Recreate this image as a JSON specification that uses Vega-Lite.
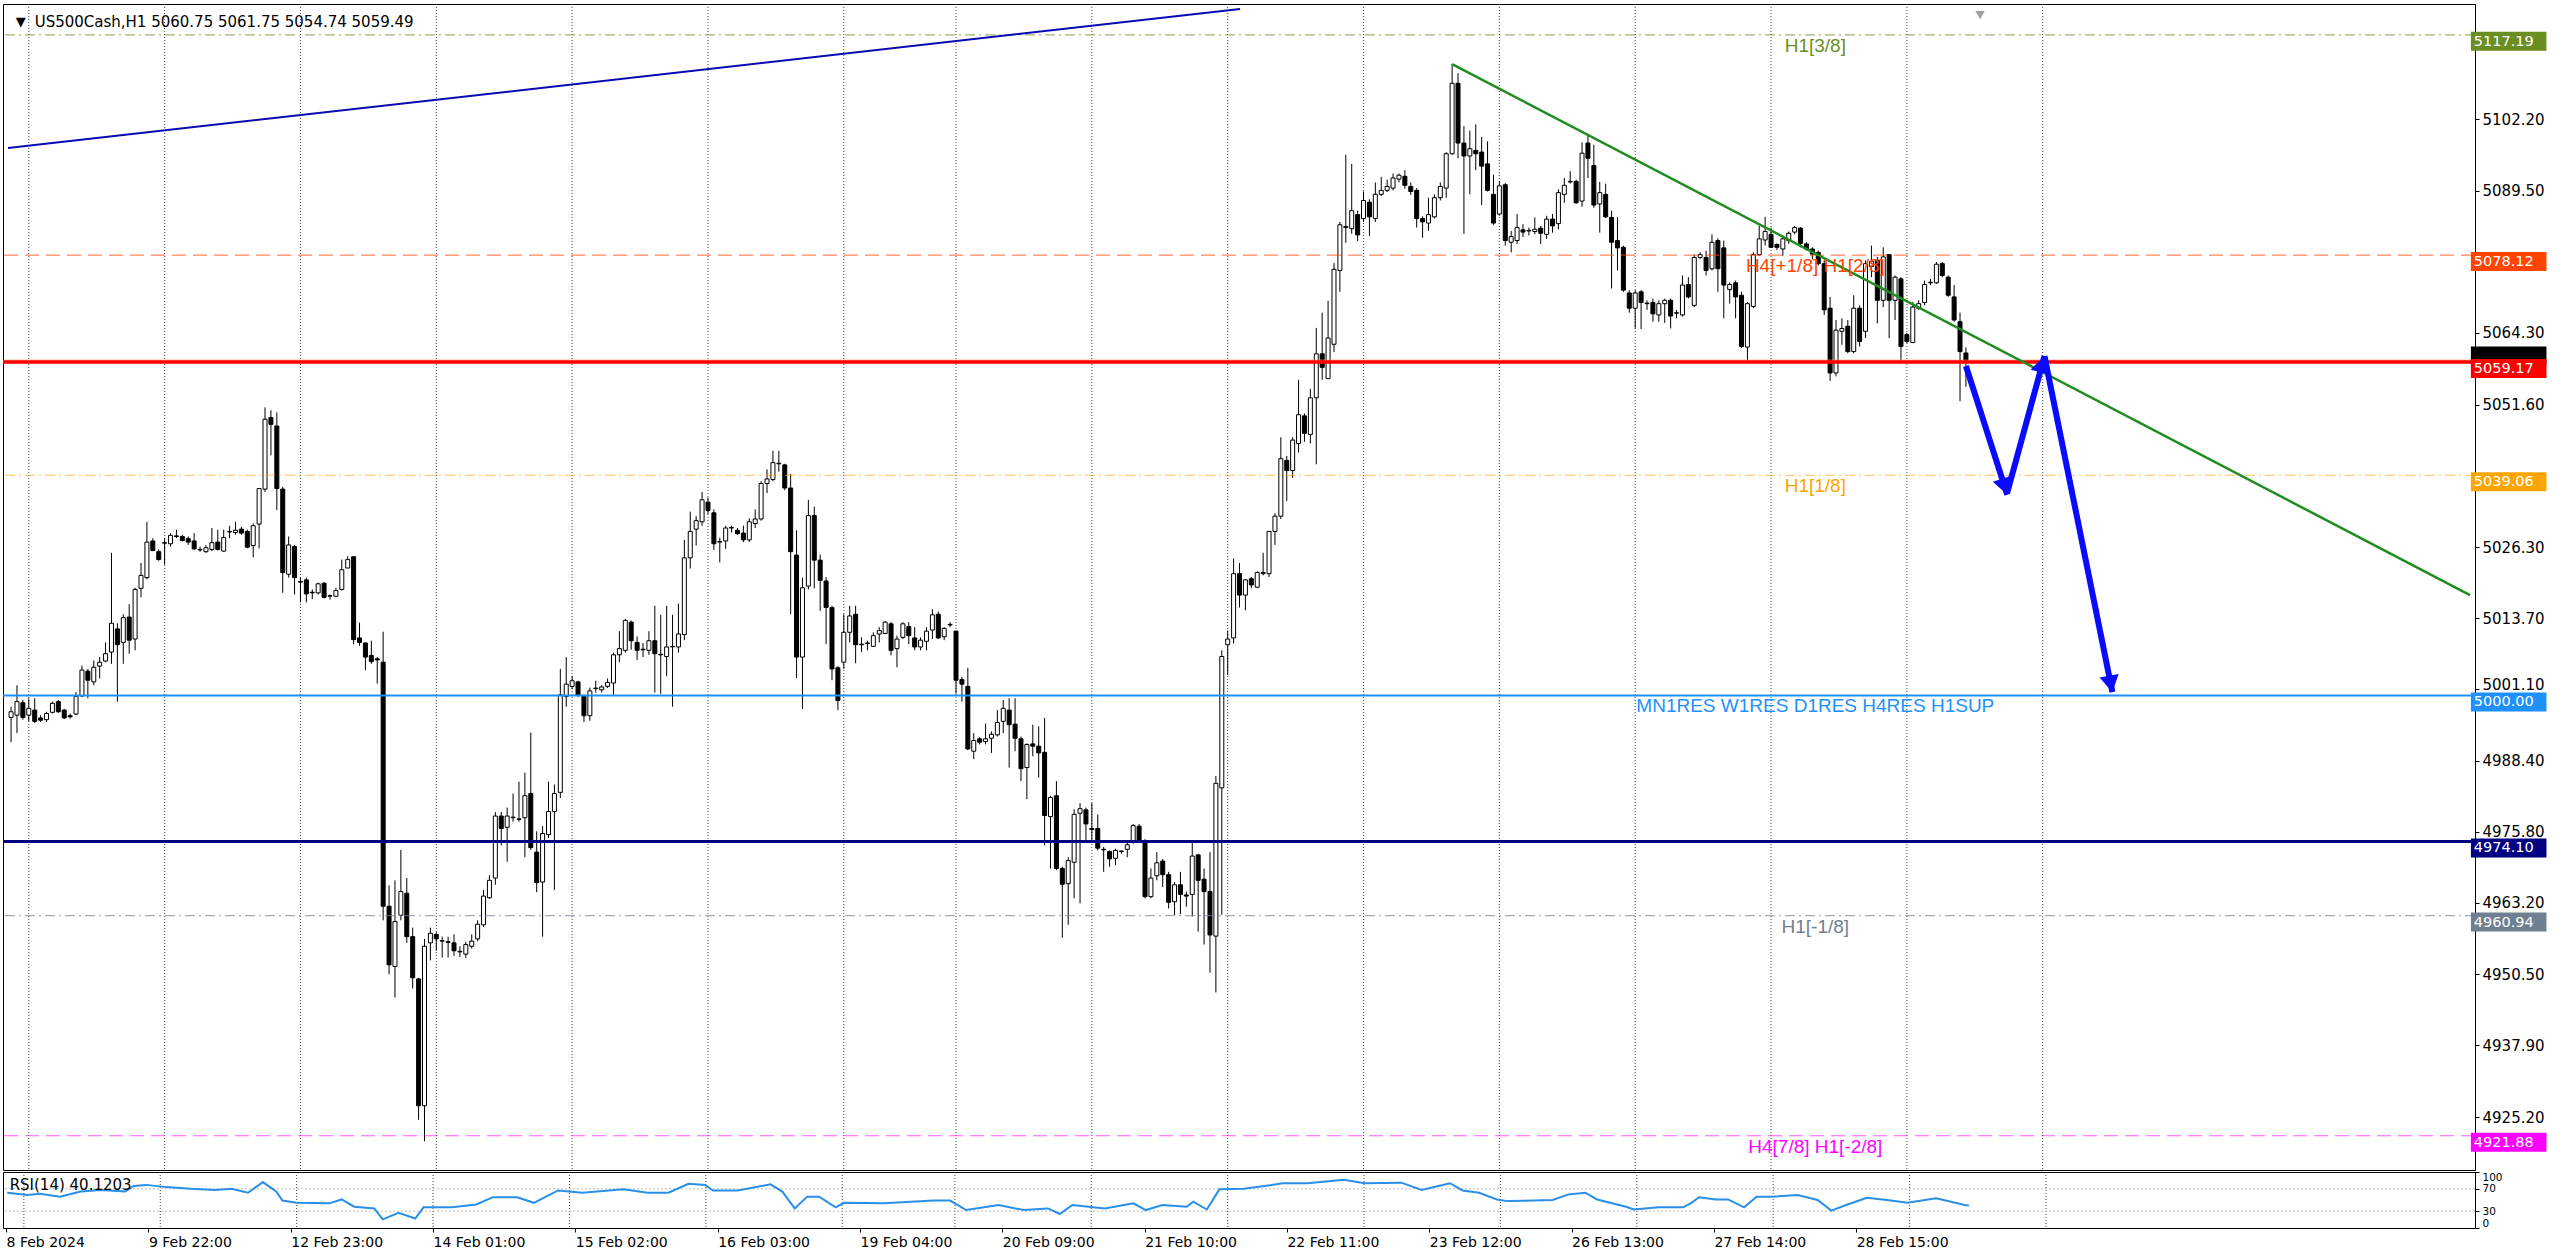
{
"$schema":"https://vega.github.io/schema/vega-lite/v6.json",
"padding":{"left":0,"top":3,"right":0,"bottom":0},
"background":"#ffffff",
"bounds":"flush",
"spacing":2,
"config":{"view":{"stroke":"#000","strokeWidth":1},"font":"DejaVu Sans"},
"datasets":{
"candles":[
{"i":0,"o":4996.1,"h":4998.0,"l":4991.7,"c":4997.1},{"i":1,"o":4996.5,"h":5001.8,"l":4993.3,"c":4998.9},{"i":2,"o":4998.7,"h":4999.2,"l":4995.7,"c":4996.1},{"i":3,"o":4996.5,"h":4999.5,"l":4995.4,"c":4997.7},{"i":4,"o":4997.4,"h":4999.5,"l":4995.1,"c":4995.4},{"i":5,"o":4996.0,"h":4996.5,"l":4995.3,"c":4995.6},{"i":6,"o":4995.7,"h":4997.1,"l":4995.3,"c":4996.8},{"i":7,"o":4997.0,"h":4998.9,"l":4996.8,"c":4998.6},{"i":8,"o":4998.9,"h":4999.2,"l":4996.9,"c":4997.1},{"i":9,"o":4997.4,"h":4997.6,"l":4995.8,"c":4996.0},
{"i":10,"o":4996.4,"h":4996.8,"l":4995.9,"c":4996.2},{"i":11,"o":4996.7,"h":5000.6,"l":4996.5,"c":4999.8},{"i":12,"o":4999.9,"h":5005.3,"l":4999.7,"c":5004.5},{"i":13,"o":5004.3,"h":5004.7,"l":4999.5,"c":5002.7},{"i":14,"o":5002.4,"h":5006.2,"l":5001.8,"c":5005.0},{"i":15,"o":5005.2,"h":5006.8,"l":5003.0,"c":5005.9},{"i":16,"o":5006.1,"h":5009.4,"l":5005.9,"c":5007.4},{"i":17,"o":5007.7,"h":5025.3,"l":5005.6,"c":5012.8},{"i":18,"o":5011.8,"h":5012.8,"l":4998.9,"c":5009.0},{"i":19,"o":5009.4,"h":5014.4,"l":5005.6,"c":5013.8},
{"i":20,"o":5013.9,"h":5016.2,"l":5007.4,"c":5009.8},{"i":21,"o":5010.0,"h":5019.1,"l":5008.0,"c":5018.8},{"i":22,"o":5019.0,"h":5023.5,"l":5017.4,"c":5021.3},{"i":23,"o":5020.9,"h":5030.8,"l":5020.6,"c":5027.2},{"i":24,"o":5027.4,"h":5027.9,"l":5025.6,"c":5025.7},{"i":25,"o":5025.5,"h":5025.9,"l":5023.9,"c":5024.1},{"i":26,"o":5027.0,"h":5027.9,"l":5023.2,"c":5027.1},{"i":27,"o":5026.9,"h":5028.8,"l":5026.4,"c":5028.4},{"i":28,"o":5028.3,"h":5029.4,"l":5027.9,"c":5028.2},{"i":29,"o":5028.2,"h":5028.5,"l":5027.3,"c":5027.5},
{"i":30,"o":5027.8,"h":5028.2,"l":5026.7,"c":5027.2},{"i":31,"o":5027.4,"h":5028.8,"l":5025.8,"c":5026.0},{"i":32,"o":5025.9,"h":5026.4,"l":5025.5,"c":5025.8},{"i":33,"o":5025.5,"h":5026.7,"l":5025.3,"c":5026.2},{"i":34,"o":5025.9,"h":5029.7,"l":5025.6,"c":5027.1},{"i":35,"o":5027.2,"h":5029.4,"l":5025.7,"c":5025.9},{"i":36,"o":5025.6,"h":5029.4,"l":5025.5,"c":5028.0},{"i":37,"o":5029.0,"h":5030.1,"l":5027.9,"c":5029.1},{"i":38,"o":5028.9,"h":5030.8,"l":5028.5,"c":5029.3},{"i":39,"o":5029.5,"h":5029.9,"l":5028.5,"c":5028.8},
{"i":40,"o":5029.1,"h":5029.4,"l":5026.1,"c":5026.3},{"i":41,"o":5026.6,"h":5030.5,"l":5024.5,"c":5030.1},{"i":42,"o":5030.4,"h":5036.8,"l":5026.1,"c":5036.7},{"i":43,"o":5036.6,"h":5051.1,"l":5036.1,"c":5049.0},{"i":44,"o":5049.3,"h":5050.6,"l":5042.6,"c":5048.1},{"i":45,"o":5047.8,"h":5050.2,"l":5032.9,"c":5036.7},{"i":46,"o":5036.6,"h":5037.0,"l":5018.2,"c":5021.8},{"i":47,"o":5021.5,"h":5028.2,"l":5020.9,"c":5026.7},{"i":48,"o":5026.4,"h":5026.7,"l":5017.9,"c":5020.9},{"i":49,"o":5020.2,"h":5020.9,"l":5016.5,"c":5020.1},
{"i":50,"o":5020.5,"h":5020.9,"l":5016.5,"c":5018.0},{"i":51,"o":5018.3,"h":5018.8,"l":5017.1,"c":5018.2},{"i":52,"o":5018.2,"h":5020.0,"l":5017.9,"c":5019.8},{"i":53,"o":5019.9,"h":5020.1,"l":5017.2,"c":5017.4},{"i":54,"o":5017.6,"h":5017.9,"l":5017.0,"c":5017.7},{"i":55,"o":5017.6,"h":5019.1,"l":5017.5,"c":5018.6},{"i":56,"o":5018.8,"h":5024.1,"l":5018.6,"c":5022.3},{"i":57,"o":5022.6,"h":5024.7,"l":5022.6,"c":5024.1},{"i":58,"o":5024.6,"h":5024.7,"l":5009.1,"c":5009.9},{"i":59,"o":5010.2,"h":5012.9,"l":5008.8,"c":5009.4},
{"i":60,"o":5009.3,"h":5009.4,"l":5004.5,"c":5006.8},{"i":61,"o":5007.1,"h":5009.7,"l":5005.6,"c":5006.0},{"i":62,"o":5006.5,"h":5006.8,"l":5002.1,"c":5006.3},{"i":63,"o":5005.9,"h":5011.3,"l":4960.1,"c":4962.6},{"i":64,"o":4962.6,"h":4966.3,"l":4950.5,"c":4952.2},{"i":65,"o":4951.9,"h":4967.2,"l":4946.4,"c":4959.9},{"i":66,"o":4961.0,"h":4972.6,"l":4960.1,"c":4965.2},{"i":67,"o":4964.9,"h":4967.6,"l":4956.1,"c":4957.2},{"i":68,"o":4957.2,"h":4958.8,"l":4948.0,"c":4949.9},{"i":69,"o":4949.7,"h":4949.9,"l":4924.7,"c":4927.2},
{"i":70,"o":4927.2,"h":4956.8,"l":4920.9,"c":4955.5},{"i":71,"o":4956.1,"h":4958.8,"l":4953.0,"c":4957.8},{"i":72,"o":4957.6,"h":4958.0,"l":4954.7,"c":4956.8},{"i":73,"o":4956.4,"h":4957.2,"l":4953.5,"c":4956.5},{"i":74,"o":4956.3,"h":4957.2,"l":4953.5,"c":4956.2},{"i":75,"o":4956.1,"h":4957.6,"l":4953.8,"c":4954.7},{"i":76,"o":4954.5,"h":4955.5,"l":4953.6,"c":4954.6},{"i":77,"o":4954.1,"h":4956.3,"l":4953.4,"c":4955.8},{"i":78,"o":4955.5,"h":4957.6,"l":4955.1,"c":4956.4},{"i":79,"o":4956.8,"h":4960.1,"l":4956.4,"c":4959.4},
{"i":80,"o":4959.3,"h":4965.5,"l":4958.9,"c":4964.4},{"i":81,"o":4964.1,"h":4968.1,"l":4963.9,"c":4967.2},{"i":82,"o":4967.6,"h":4979.3,"l":4966.4,"c":4978.6},{"i":83,"o":4978.6,"h":4979.3,"l":4973.4,"c":4976.4},{"i":84,"o":4976.6,"h":4980.1,"l":4970.5,"c":4978.6},{"i":85,"o":4978.3,"h":4982.6,"l":4977.6,"c":4978.4},{"i":86,"o":4978.0,"h":4984.7,"l":4977.6,"c":4978.1},{"i":87,"o":4978.3,"h":4986.3,"l":4971.3,"c":4982.2},{"i":88,"o":4982.6,"h":4993.4,"l":4972.6,"c":4973.0},{"i":89,"o":4972.2,"h":4975.9,"l":4965.1,"c":4966.8},
{"i":90,"o":4966.9,"h":4976.8,"l":4957.2,"c":4975.5},{"i":91,"o":4975.3,"h":4984.7,"l":4974.7,"c":4979.4},{"i":92,"o":4979.4,"h":4984.2,"l":4965.5,"c":4982.6},{"i":93,"o":4982.8,"h":5004.7,"l":4981.8,"c":5000.1},{"i":94,"o":4999.8,"h":5006.8,"l":4998.0,"c":5002.0},{"i":95,"o":5001.6,"h":5003.4,"l":5001.1,"c":5002.6},{"i":96,"o":5002.4,"h":5002.6,"l":4999.7,"c":5000.0},{"i":97,"o":5000.0,"h":5000.1,"l":4995.3,"c":4996.4},{"i":98,"o":4996.4,"h":5001.4,"l":4995.5,"c":5000.8},{"i":99,"o":5001.2,"h":5002.6,"l":5000.5,"c":5001.3},
{"i":100,"o":5001.0,"h":5001.8,"l":5000.5,"c":5001.5},{"i":101,"o":5001.6,"h":5003.0,"l":5001.3,"c":5002.3},{"i":102,"o":5002.2,"h":5007.6,"l":5000.1,"c":5007.2},{"i":103,"o":5007.2,"h":5011.4,"l":5005.9,"c":5008.3},{"i":104,"o":5008.0,"h":5013.6,"l":5007.6,"c":5013.3},{"i":105,"o":5013.0,"h":5013.3,"l":5008.1,"c":5009.7},{"i":106,"o":5009.4,"h":5010.5,"l":5006.3,"c":5008.0},{"i":107,"o":5008.2,"h":5009.3,"l":5006.8,"c":5008.1},{"i":108,"o":5008.0,"h":5011.4,"l":5007.2,"c":5009.7},{"i":109,"o":5009.7,"h":5015.9,"l":5000.5,"c":5007.4},
{"i":110,"o":5007.3,"h":5014.3,"l":5000.3,"c":5007.2},{"i":111,"o":5006.9,"h":5015.9,"l":5003.4,"c":5008.6},{"i":112,"o":5008.6,"h":5014.3,"l":4998.0,"c":5008.7},{"i":113,"o":5008.6,"h":5016.3,"l":5007.6,"c":5010.9},{"i":114,"o":5010.8,"h":5027.6,"l":5009.8,"c":5024.4},{"i":115,"o":5024.4,"h":5032.6,"l":5022.5,"c":5029.1},{"i":116,"o":5029.5,"h":5031.8,"l":5026.6,"c":5031.0},{"i":117,"o":5030.8,"h":5036.1,"l":5030.1,"c":5034.7},{"i":118,"o":5034.3,"h":5035.1,"l":5032.2,"c":5032.8},{"i":119,"o":5032.4,"h":5033.0,"l":5025.8,"c":5026.9},
{"i":120,"o":5027.2,"h":5028.0,"l":5023.6,"c":5027.3},{"i":121,"o":5027.4,"h":5030.1,"l":5026.0,"c":5029.7},{"i":122,"o":5029.7,"h":5030.1,"l":5028.9,"c":5029.8},{"i":123,"o":5029.3,"h":5029.7,"l":5028.5,"c":5028.7},{"i":124,"o":5028.8,"h":5030.1,"l":5027.2,"c":5027.6},{"i":125,"o":5027.6,"h":5031.4,"l":5027.2,"c":5030.8},{"i":126,"o":5030.5,"h":5033.0,"l":5029.7,"c":5031.3},{"i":127,"o":5031.3,"h":5038.0,"l":5031.0,"c":5037.6},{"i":128,"o":5037.6,"h":5040.1,"l":5035.9,"c":5038.4},{"i":129,"o":5038.3,"h":5043.4,"l":5038.0,"c":5041.3},
{"i":130,"o":5041.1,"h":5043.4,"l":5039.7,"c":5041.2},{"i":131,"o":5040.9,"h":5041.1,"l":5036.4,"c":5036.8},{"i":132,"o":5036.8,"h":5039.3,"l":5014.4,"c":5025.5},{"i":133,"o":5024.9,"h":5029.3,"l":5003.1,"c":5006.8},{"i":134,"o":5006.8,"h":5020.9,"l":4997.6,"c":5019.1},{"i":135,"o":5019.4,"h":5034.7,"l":5018.8,"c":5031.9},{"i":136,"o":5031.9,"h":5033.5,"l":5019.0,"c":5024.0},{"i":137,"o":5024.0,"h":5025.0,"l":5015.0,"c":5020.4},{"i":138,"o":5020.3,"h":5021.0,"l":5009.1,"c":5015.6},{"i":139,"o":5015.6,"h":5015.9,"l":5002.7,"c":5004.7},
{"i":140,"o":5004.9,"h":5005.2,"l":4997.4,"c":4999.1},{"i":141,"o":5005.9,"h":5014.4,"l":5004.7,"c":5011.2},{"i":142,"o":5011.2,"h":5015.9,"l":5009.4,"c":5014.1},{"i":143,"o":5014.4,"h":5015.9,"l":5005.7,"c":5009.0},{"i":144,"o":5009.1,"h":5010.3,"l":5007.7,"c":5009.0},{"i":145,"o":5009.3,"h":5009.7,"l":5008.0,"c":5009.2},{"i":146,"o":5008.7,"h":5011.2,"l":5008.6,"c":5010.6},{"i":147,"o":5010.9,"h":5012.1,"l":5009.4,"c":5011.5},{"i":148,"o":5011.0,"h":5013.2,"l":5010.9,"c":5013.0},{"i":149,"o":5012.7,"h":5013.0,"l":5007.1,"c":5008.0},
{"i":150,"o":5008.3,"h":5010.6,"l":5005.0,"c":5010.0},{"i":151,"o":5010.3,"h":5013.0,"l":5010.0,"c":5012.7},{"i":152,"o":5012.2,"h":5013.0,"l":5009.1,"c":5010.6},{"i":153,"o":5010.2,"h":5012.1,"l":5008.0,"c":5008.6},{"i":154,"o":5008.6,"h":5010.3,"l":5008.0,"c":5009.8},{"i":155,"o":5009.6,"h":5012.1,"l":5008.0,"c":5011.4},{"i":156,"o":5011.6,"h":5015.3,"l":5010.0,"c":5014.3},{"i":157,"o":5014.4,"h":5014.9,"l":5010.0,"c":5010.2},{"i":158,"o":5010.4,"h":5012.1,"l":5009.8,"c":5011.9},{"i":159,"o":5012.5,"h":5013.0,"l":5012.1,"c":5012.6},
{"i":160,"o":5011.4,"h":5011.5,"l":5000.3,"c":5002.7},{"i":161,"o":5002.8,"h":5003.3,"l":4998.9,"c":5002.0},{"i":162,"o":5001.6,"h":5004.9,"l":4990.3,"c":4990.5},{"i":163,"o":4990.1,"h":4993.3,"l":4988.7,"c":4992.0},{"i":164,"o":4992.3,"h":4992.6,"l":4991.3,"c":4991.7},{"i":165,"o":4991.8,"h":4995.0,"l":4991.3,"c":4992.3},{"i":166,"o":4992.4,"h":4993.6,"l":4989.8,"c":4993.1},{"i":167,"o":4993.0,"h":4997.4,"l":4992.7,"c":4995.2},{"i":168,"o":4995.4,"h":4999.2,"l":4993.3,"c":4997.7},{"i":169,"o":4997.4,"h":4999.5,"l":4987.2,"c":4994.8},
{"i":170,"o":4994.9,"h":4999.5,"l":4990.1,"c":4992.4},{"i":171,"o":4992.3,"h":4992.7,"l":4984.8,"c":4987.0},{"i":172,"o":4987.2,"h":4991.5,"l":4981.6,"c":4991.3},{"i":173,"o":4991.4,"h":4994.8,"l":4989.2,"c":4991.0},{"i":174,"o":4991.0,"h":4994.5,"l":4985.4,"c":4989.8},{"i":175,"o":4989.9,"h":4996.0,"l":4973.4,"c":4978.7},{"i":176,"o":4978.5,"h":4982.2,"l":4969.3,"c":4981.9},{"i":177,"o":4982.2,"h":4984.8,"l":4969.0,"c":4969.3},{"i":178,"o":4969.3,"h":4969.6,"l":4957.0,"c":4966.5},{"i":179,"o":4966.6,"h":4971.3,"l":4959.3,"c":4970.7},
{"i":180,"o":4970.4,"h":4979.8,"l":4964.0,"c":4978.9},{"i":181,"o":4979.1,"h":4980.9,"l":4963.1,"c":4979.9},{"i":182,"o":4979.7,"h":4980.1,"l":4974.3,"c":4977.2},{"i":183,"o":4976.4,"h":4980.9,"l":4974.0,"c":4976.2},{"i":184,"o":4976.4,"h":4978.9,"l":4972.5,"c":4972.9},{"i":185,"o":4972.7,"h":4973.1,"l":4968.7,"c":4972.6},{"i":186,"o":4972.3,"h":4972.5,"l":4969.6,"c":4971.0},{"i":187,"o":4971.1,"h":4972.8,"l":4969.9,"c":4972.5},{"i":188,"o":4972.3,"h":4972.5,"l":4971.9,"c":4972.4},{"i":189,"o":4972.7,"h":4973.9,"l":4971.3,"c":4973.5},
{"i":190,"o":4974.0,"h":4977.2,"l":4973.7,"c":4976.9},{"i":191,"o":4976.8,"h":4977.2,"l":4973.9,"c":4974.2},{"i":192,"o":4974.2,"h":4974.5,"l":4964.0,"c":4964.3},{"i":193,"o":4964.3,"h":4969.3,"l":4964.0,"c":4967.6},{"i":194,"o":4968.0,"h":4972.2,"l":4967.2,"c":4970.3},{"i":195,"o":4970.6,"h":4971.0,"l":4966.0,"c":4968.2},{"i":196,"o":4968.2,"h":4968.7,"l":4962.2,"c":4963.3},{"i":197,"o":4963.4,"h":4966.9,"l":4961.0,"c":4966.4},{"i":198,"o":4966.4,"h":4968.7,"l":4961.2,"c":4964.7},{"i":199,"o":4964.6,"h":4965.2,"l":4962.5,"c":4964.4},
{"i":200,"o":4964.7,"h":4974.0,"l":4960.8,"c":4971.5},{"i":201,"o":4971.7,"h":4971.9,"l":4958.1,"c":4967.2},{"i":202,"o":4967.4,"h":4969.3,"l":4955.8,"c":4965.2},{"i":203,"o":4965.2,"h":4972.2,"l":4950.8,"c":4957.5},{"i":204,"o":4957.3,"h":4985.7,"l":4947.3,"c":4984.4},{"i":205,"o":4983.6,"h":5008.0,"l":4961.1,"c":5006.9},{"i":206,"o":5009.0,"h":5011.5,"l":5003.6,"c":5010.0},{"i":207,"o":5010.2,"h":5024.3,"l":5009.2,"c":5021.6},{"i":208,"o":5021.6,"h":5023.5,"l":5015.6,"c":5017.8},{"i":209,"o":5017.8,"h":5020.6,"l":5015.1,"c":5020.5},
{"i":210,"o":5020.7,"h":5021.0,"l":5019.0,"c":5019.6},{"i":211,"o":5019.2,"h":5022.0,"l":5019.0,"c":5021.8},{"i":212,"o":5021.6,"h":5025.3,"l":5021.3,"c":5021.8},{"i":213,"o":5021.6,"h":5029.1,"l":5021.0,"c":5029.1},{"i":214,"o":5029.1,"h":5032.3,"l":5026.7,"c":5031.8},{"i":215,"o":5031.8,"h":5045.8,"l":5031.3,"c":5042.0},{"i":216,"o":5041.7,"h":5042.5,"l":5034.5,"c":5039.9},{"i":217,"o":5039.9,"h":5045.8,"l":5038.6,"c":5045.3},{"i":218,"o":5044.7,"h":5056.0,"l":5043.1,"c":5049.8},{"i":219,"o":5049.6,"h":5050.0,"l":5045.0,"c":5046.5},
{"i":220,"o":5046.3,"h":5054.4,"l":5044.7,"c":5052.8},{"i":221,"o":5052.8,"h":5065.2,"l":5041.0,"c":5060.6},{"i":222,"o":5060.6,"h":5067.9,"l":5056.0,"c":5058.2},{"i":223,"o":5056.2,"h":5070.0,"l":5056.2,"c":5063.4},{"i":224,"o":5062.3,"h":5076.7,"l":5060.9,"c":5075.6},{"i":225,"o":5075.4,"h":5084.0,"l":5071.6,"c":5083.5},{"i":226,"o":5083.0,"h":5095.9,"l":5080.3,"c":5083.2},{"i":227,"o":5082.8,"h":5094.3,"l":5081.9,"c":5086.0},{"i":228,"o":5085.3,"h":5086.0,"l":5080.6,"c":5081.7},{"i":229,"o":5084.6,"h":5089.4,"l":5084.0,"c":5087.8},
{"i":230,"o":5087.5,"h":5088.0,"l":5081.5,"c":5084.9},{"i":231,"o":5084.6,"h":5091.0,"l":5084.0,"c":5088.9},{"i":232,"o":5088.9,"h":5092.0,"l":5088.6,"c":5089.6},{"i":233,"o":5089.6,"h":5091.5,"l":5089.3,"c":5090.3},{"i":234,"o":5090.0,"h":5092.6,"l":5089.6,"c":5091.8},{"i":235,"o":5091.6,"h":5092.6,"l":5091.0,"c":5092.3},{"i":236,"o":5092.1,"h":5093.2,"l":5089.9,"c":5090.5},{"i":237,"o":5090.3,"h":5091.0,"l":5088.8,"c":5089.4},{"i":238,"o":5089.6,"h":5090.0,"l":5083.0,"c":5084.6},{"i":239,"o":5084.6,"h":5085.0,"l":5081.2,"c":5084.0},
{"i":240,"o":5083.8,"h":5088.3,"l":5082.4,"c":5085.3},{"i":241,"o":5084.9,"h":5088.9,"l":5084.6,"c":5088.3},{"i":242,"o":5088.3,"h":5091.0,"l":5087.8,"c":5090.3},{"i":243,"o":5090.0,"h":5096.4,"l":5088.3,"c":5096.1},{"i":244,"o":5096.1,"h":5112.0,"l":5095.9,"c":5108.6},{"i":245,"o":5108.6,"h":5110.4,"l":5095.3,"c":5098.0},{"i":246,"o":5098.0,"h":5101.0,"l":5081.9,"c":5095.7},{"i":247,"o":5095.7,"h":5100.2,"l":5088.9,"c":5097.0},{"i":248,"o":5096.7,"h":5101.3,"l":5093.2,"c":5096.1},{"i":249,"o":5096.4,"h":5099.1,"l":5087.0,"c":5093.9},
{"i":250,"o":5094.3,"h":5098.3,"l":5089.4,"c":5089.6},{"i":251,"o":5088.9,"h":5092.4,"l":5083.5,"c":5083.8},{"i":252,"o":5085.4,"h":5091.2,"l":5085.1,"c":5090.4},{"i":253,"o":5090.6,"h":5090.9,"l":5079.8,"c":5080.7},{"i":254,"o":5080.4,"h":5082.4,"l":5078.6,"c":5081.4},{"i":255,"o":5080.7,"h":5085.4,"l":5080.1,"c":5083.0},{"i":256,"o":5082.6,"h":5083.6,"l":5081.3,"c":5082.2},{"i":257,"o":5082.4,"h":5083.0,"l":5081.6,"c":5082.5},{"i":258,"o":5082.3,"h":5084.8,"l":5081.8,"c":5082.7},{"i":259,"o":5082.9,"h":5083.3,"l":5080.1,"c":5082.0},
{"i":260,"o":5081.8,"h":5085.1,"l":5081.0,"c":5084.5},{"i":261,"o":5084.5,"h":5085.4,"l":5082.1,"c":5083.3},{"i":262,"o":5083.7,"h":5089.8,"l":5082.7,"c":5089.2},{"i":263,"o":5088.9,"h":5091.8,"l":5087.4,"c":5090.5},{"i":264,"o":5091.1,"h":5093.0,"l":5090.8,"c":5091.2},{"i":265,"o":5091.2,"h":5091.5,"l":5087.2,"c":5087.4},{"i":266,"o":5087.7,"h":5098.1,"l":5086.7,"c":5096.2},{"i":267,"o":5098.0,"h":5099.6,"l":5091.8,"c":5095.3},{"i":268,"o":5094.0,"h":5097.7,"l":5086.5,"c":5087.0},{"i":269,"o":5087.2,"h":5091.1,"l":5082.1,"c":5089.2},
{"i":270,"o":5088.9,"h":5090.8,"l":5084.7,"c":5084.9},{"i":271,"o":5084.8,"h":5086.0,"l":5072.2,"c":5080.4},{"i":272,"o":5080.7,"h":5084.9,"l":5075.4,"c":5079.4},{"i":273,"o":5079.5,"h":5079.8,"l":5071.6,"c":5071.9},{"i":274,"o":5071.4,"h":5071.9,"l":5067.9,"c":5068.7},{"i":275,"o":5068.7,"h":5071.9,"l":5065.1,"c":5071.4},{"i":276,"o":5071.6,"h":5071.9,"l":5065.0,"c":5069.7},{"i":277,"o":5069.5,"h":5070.1,"l":5068.4,"c":5069.6},{"i":278,"o":5069.7,"h":5070.4,"l":5066.3,"c":5067.7},{"i":279,"o":5067.5,"h":5070.1,"l":5066.3,"c":5069.5},
{"i":280,"o":5069.5,"h":5070.4,"l":5066.1,"c":5070.1},{"i":281,"o":5070.1,"h":5070.4,"l":5065.1,"c":5067.3},{"i":282,"o":5067.8,"h":5068.4,"l":5066.9,"c":5067.9},{"i":283,"o":5067.5,"h":5074.5,"l":5067.2,"c":5072.8},{"i":284,"o":5072.9,"h":5074.2,"l":5070.4,"c":5070.7},{"i":285,"o":5069.2,"h":5078.2,"l":5068.9,"c":5077.7},{"i":286,"o":5077.7,"h":5078.6,"l":5077.4,"c":5078.2},{"i":287,"o":5077.7,"h":5078.9,"l":5074.5,"c":5075.4},{"i":288,"o":5075.7,"h":5081.8,"l":5075.4,"c":5080.4},{"i":289,"o":5080.7,"h":5081.1,"l":5071.6,"c":5075.7},
{"i":290,"o":5079.4,"h":5080.7,"l":5066.9,"c":5072.8},{"i":291,"o":5072.0,"h":5073.3,"l":5069.5,"c":5072.9},{"i":292,"o":5073.2,"h":5073.6,"l":5066.9,"c":5070.7},{"i":293,"o":5071.0,"h":5071.6,"l":5061.6,"c":5061.9},{"i":294,"o":5061.8,"h":5069.8,"l":5059.3,"c":5069.5},{"i":295,"o":5069.0,"h":5078.6,"l":5068.7,"c":5078.2},{"i":296,"o":5078.2,"h":5083.3,"l":5078.0,"c":5081.0},{"i":297,"o":5080.8,"h":5084.9,"l":5079.8,"c":5082.3},{"i":298,"o":5081.8,"h":5083.0,"l":5079.4,"c":5079.5},{"i":299,"o":5080.0,"h":5080.2,"l":5079.0,"c":5079.5},
{"i":300,"o":5079.2,"h":5081.6,"l":5078.0,"c":5081.0},{"i":301,"o":5080.7,"h":5082.3,"l":5080.1,"c":5082.0},{"i":302,"o":5082.2,"h":5083.3,"l":5081.8,"c":5083.0},{"i":303,"o":5082.9,"h":5083.1,"l":5079.5,"c":5080.2},{"i":304,"o":5080.1,"h":5080.4,"l":5078.9,"c":5079.2},{"i":305,"o":5079.2,"h":5079.5,"l":5077.4,"c":5078.3},{"i":306,"o":5078.6,"h":5078.9,"l":5076.3,"c":5076.6},{"i":307,"o":5076.6,"h":5077.2,"l":5067.5,"c":5068.4},{"i":308,"o":5068.7,"h":5070.7,"l":5055.8,"c":5057.2},{"i":309,"o":5057.2,"h":5066.6,"l":5056.6,"c":5064.8},
{"i":310,"o":5064.6,"h":5066.9,"l":5062.2,"c":5065.1},{"i":311,"o":5065.5,"h":5066.6,"l":5060.7,"c":5061.0},{"i":312,"o":5061.0,"h":5071.0,"l":5060.7,"c":5068.7},{"i":313,"o":5068.7,"h":5069.2,"l":5061.9,"c":5062.8},{"i":314,"o":5064.6,"h":5077.2,"l":5063.4,"c":5076.6},{"i":315,"o":5076.1,"h":5079.8,"l":5074.2,"c":5077.0},{"i":316,"o":5077.2,"h":5077.8,"l":5066.0,"c":5070.1},{"i":317,"o":5070.1,"h":5079.5,"l":5068.9,"c":5077.8},{"i":318,"o":5078.2,"h":5078.3,"l":5063.4,"c":5070.1},{"i":319,"o":5070.1,"h":5074.5,"l":5066.6,"c":5074.2},
{"i":320,"o":5073.9,"h":5074.2,"l":5059.3,"c":5061.9},{"i":321,"o":5064.0,"h":5064.3,"l":5062.5,"c":5062.8},{"i":322,"o":5062.6,"h":5069.8,"l":5062.5,"c":5068.9},{"i":323,"o":5068.7,"h":5070.1,"l":5068.4,"c":5069.5},{"i":324,"o":5069.7,"h":5073.6,"l":5069.2,"c":5072.9},{"i":325,"o":5073.2,"h":5073.9,"l":5072.8,"c":5073.3},{"i":326,"o":5073.2,"h":5076.9,"l":5073.0,"c":5076.5},{"i":327,"o":5076.6,"h":5076.9,"l":5074.2,"c":5074.5},{"i":328,"o":5074.2,"h":5074.5,"l":5070.7,"c":5071.0},{"i":329,"o":5070.7,"h":5072.8,"l":5066.3,"c":5066.6},
{"i":330,"o":5066.3,"h":5067.9,"l":5052.2,"c":5061.0},{"i":331,"o":5060.75,"h":5061.75,"l":5054.74,"c":5059.49}
],
"rsi":[
{"i":0.2,"r":63},{"i":3.6,"r":59},{"i":5.7,"r":61},{"i":9.1,"r":56},{"i":12.6,"r":65},{"i":16.0,"r":68},{"i":20.1,"r":65},{"i":21.5,"r":75},{"i":23.6,"r":77},{"i":27.0,"r":73},{"i":31.1,"r":70},{"i":35.3,"r":68},{"i":38.0,"r":70},{"i":40.8,"r":63},{"i":43.3,"r":82},{"i":45.6,"r":65},{"i":46.6,"r":49},{"i":49.0,"r":45},{"i":54.5,"r":44},{"i":56.6,"r":51},{"i":58.7,"r":38},{"i":62.1,"r":35},{"i":63.5,"r":15.5},{"i":66.2,"r":27},{"i":69.0,"r":17},{"i":70.4,"r":37},{"i":75.2,"r":37},{"i":79.3,"r":42},{"i":82.1,"r":55},{"i":86.2,"r":55},{"i":89.0,"r":45},{"i":93.1,"r":67},{"i":97.2,"r":63},{"i":104.1,"r":69},{"i":108.2,"r":63},{"i":111.7,"r":63},{"i":115.1,"r":79},{"i":117.9,"r":77},{"i":119.2,"r":67},{"i":123.4,"r":67},{"i":128.9,"r":78},{"i":130.9,"r":65},{"i":133.0,"r":35},{"i":135.1,"r":56},{"i":137.1,"r":56},{"i":139.9,"r":37},{"i":141.3,"r":45},{"i":148.1,"r":44},{"i":156.4,"r":49},{"i":159.2,"r":49},{"i":161.9,"r":32},{"i":167.4,"r":41},{"i":171.6,"r":32},{"i":175.7,"r":35},{"i":177.7,"r":25},{"i":179.8,"r":41},{"i":185.3,"r":35},{"i":190.1,"r":44},{"i":192.2,"r":32},{"i":195.0,"r":41},{"i":199.1,"r":38},{"i":200.2,"r":47},{"i":202.5,"r":33},{"i":204.6,"r":69},{"i":208.7,"r":70},{"i":214.2,"r":78},{"i":215.3,"r":80},{"i":219.5,"r":80},{"i":225.6,"r":86},{"i":229.1,"r":80},{"i":235.3,"r":81},{"i":238.7,"r":68},{"i":243.5,"r":80},{"i":245.6,"r":67},{"i":248.4,"r":63},{"i":251.4,"r":51},{"i":253.2,"r":48},{"i":260.8,"r":50},{"i":263.5,"r":60},{"i":266.3,"r":63},{"i":268.3,"r":51},{"i":273.2,"r":38},{"i":274.5,"r":33},{"i":278.7,"r":37},{"i":282.8,"r":37},{"i":284.2,"r":45},{"i":285.5,"r":55},{"i":288.3,"r":51},{"i":290.4,"r":51},{"i":293.1,"r":37},{"i":295.2,"r":56},{"i":297.9,"r":56},{"i":302.1,"r":59},{"i":305.5,"r":50},{"i":307.8,"r":31},{"i":310.3,"r":41},{"i":313.8,"r":54},{"i":317.2,"r":50},{"i":320.6,"r":45},{"i":325.5,"r":53},{"i":330.3,"r":41},{"i":331,"r":40.12}
],
"levels":[
{"level":"H1[3/8]","price":5117.19},
{"level":"H4[+1/8] H1[2/8]","price":5078.12},
{"level":"Bid","price":5059.49},
{"level":"Red","price":5059.17},
{"level":"H1[1/8]","price":5039.06},
{"level":"MN1RES W1RES D1RES H4RES H1SUP","price":5000.00},
{"level":"Navy","price":4974.10},
{"level":"H1[-1/8]","price":4960.94},
{"level":"H4[7/8] H1[-2/8]","price":4921.88}
],
"rsiLevels":[{"r":70},{"r":30}],
"grid":[{"i":3},{"i":26},{"i":49},{"i":72},{"i":95},{"i":118},{"i":141},{"i":160},{"i":183},{"i":206},{"i":229},{"i":252},{"i":275},{"i":298},{"i":321},{"i":344}],
"blueTrend":[{"i":-0.52,"p":5097.1},{"i":208.1,"p":5121.78}],
"greenTrend":[{"i":244,"p":5112.0},{"i":416.35,"p":5017.8}],
"arrows":[{"a":1,"i":331.0,"p":5058.45},{"a":1,"i":338.0,"p":5035.6},{"a":2,"i":338.0,"p":5036.0},{"a":2,"i":344.3,"p":5060.2},{"a":3,"i":344.3,"p":5060.2},{"a":3,"i":355.8,"p":5000.6}],
"heads":[{"a":1,"i":338.0,"p":5035.6},{"a":2,"i":344.3,"p":5060.2},{"a":3,"i":355.8,"p":5000.6}]
},
"vconcat":[
{
"width":2472,"height":1166,
"resolve":{"axis":{"x":"independent","y":"independent"}},
"layer":[
{"data":{"name":"candles"},"mark":{"type":"rule","opacity":0},
 "encoding":{"x":{"field":"i","type":"quantitative","scale":{"domain":[-0.52,416.35],"nice":false,"zero":false},"axis":null},
  "y":{"field":"l","type":"quantitative","scale":{"domain":[4916.69,5121.78],"nice":false,"zero":false},
   "axis":{"orient":"right","values":[5102.2,5089.5,5064.3,5051.6,5026.3,5013.7,5001.1,4988.4,4975.8,4963.2,4950.5,4937.9,4925.2],"format":".2f","title":null,"grid":false,"domain":true,"ticks":true,"labels":true,"tickSize":4,"tickColor":"#000","domainColor":"#000","labelColor":"#000","labelFontSize":15,"labelFont":"DejaVu Sans","labelPadding":3,"labelOverlap":false,
   "labelOffset":{"condition":{"test":"datum.value > 5001 && datum.value < 5002","value":-5},"value":0}}},
  "y2":{"field":"h"}}},
{"data":{"name":"grid"},"mark":{"type":"rule","color":"#444","strokeDash":[1,2],"strokeWidth":1},
 "encoding":{"x":{"field":"i","type":"quantitative","axis":null}}},
{"data":{"name":"candles"},"mark":{"type":"rule","color":"#000","strokeWidth":1},
 "encoding":{"x":{"field":"i","type":"quantitative","axis":null},"y":{"field":"l","type":"quantitative","axis":null},"y2":{"field":"h"}}},
{"data":{"name":"candles"},"mark":{"type":"bar","size":4,"stroke":"#000","strokeWidth":1},
 "encoding":{"x":{"field":"i","type":"quantitative","axis":null},
  "y":{"field":"o","type":"quantitative","axis":null},"y2":{"field":"c"},
  "fill":{"condition":{"test":"datum.c < datum.o","value":"#000000"},"value":"#ffffff"}}},
{"data":{"name":"levels"},"transform":[{"filter":"indexof(['Red','Navy','MN1RES W1RES D1RES H4RES H1SUP'], datum.level) < 0"}],
 "mark":{"type":"rule","strokeWidth":1.2,"opacity":0.65},
 "encoding":{"y":{"field":"price","type":"quantitative","axis":null},
  "color":{"field":"level","type":"nominal","legend":null,"scale":{"domain":["H1[3/8]","H4[+1/8] H1[2/8]","Bid","Red","H1[1/8]","MN1RES W1RES D1RES H4RES H1SUP","Navy","H1[-1/8]","H4[7/8] H1[-2/8]"],"range":["#6B8E23","#FF4500","#E9967A","#FF0000","#FFA500","#1E90FF","#000080","#708090","#FF00FF"]}},
  "strokeDash":{"field":"level","type":"nominal","legend":null,"scale":{"domain":["H1[3/8]","H4[+1/8] H1[2/8]","Bid","H1[1/8]","H1[-1/8]","H4[7/8] H1[-2/8]"],"range":[[10,4,2,4],[14,7],[1,0],[10,4,2,4],[10,4,2,4],[14,7]]}}}},
{"data":{"name":"levels"},"transform":[{"filter":"datum.level == 'MN1RES W1RES D1RES H4RES H1SUP'"}],
 "mark":{"type":"rule","strokeWidth":2},
 "encoding":{"y":{"field":"price","type":"quantitative","axis":null},"color":{"field":"level","type":"nominal","legend":null}}},
{"data":{"name":"levels"},"transform":[{"filter":"datum.level == 'Navy'"}],
 "mark":{"type":"rule","strokeWidth":3},
 "encoding":{"y":{"field":"price","type":"quantitative","axis":null},"color":{"field":"level","type":"nominal","legend":null}}},
{"data":{"name":"levels"},"transform":[{"filter":"datum.level == 'Red'"}],
 "mark":{"type":"rule","strokeWidth":3.5},
 "encoding":{"y":{"field":"price","type":"quantitative","axis":null},"color":{"field":"level","type":"nominal","legend":null}}},
{"data":{"name":"blueTrend"},"mark":{"type":"line","color":"#0A0AB4","strokeWidth":2,"clip":true},
 "encoding":{"x":{"field":"i","type":"quantitative","axis":null},"y":{"field":"p","type":"quantitative","axis":null}}},
{"data":{"name":"greenTrend"},"mark":{"type":"line","color":"#1E8C1E","strokeWidth":2.5,"clip":true},
 "encoding":{"x":{"field":"i","type":"quantitative","axis":null},"y":{"field":"p","type":"quantitative","axis":null}}},
{"data":{"name":"arrows"},"mark":{"type":"line","color":"#0A0AFF","strokeWidth":6,"strokeCap":"butt"},
 "encoding":{"x":{"field":"i","type":"quantitative","axis":null},"y":{"field":"p","type":"quantitative","axis":null},"detail":{"field":"a","type":"nominal"}}},
{"data":{"name":"heads"},"transform":[{"filter":"datum.a == 1"}],"mark":{"type":"point","shape":"triangle-up","filled":true,"size":380,"opacity":1,"color":"#0A0AFF","angle":162,"xOffset":-2.6,"yOffset":-8},
 "encoding":{"x":{"field":"i","type":"quantitative","axis":null},"y":{"field":"p","type":"quantitative","axis":null}}},
{"data":{"name":"heads"},"transform":[{"filter":"datum.a == 2"}],"mark":{"type":"point","shape":"triangle-up","filled":true,"size":380,"opacity":1,"color":"#0A0AFF","angle":15,"xOffset":-2.3,"yOffset":8},
 "encoding":{"x":{"field":"i","type":"quantitative","axis":null},"y":{"field":"p","type":"quantitative","axis":null}}},
{"data":{"name":"heads"},"transform":[{"filter":"datum.a == 3"}],"mark":{"type":"point","shape":"triangle-up","filled":true,"size":380,"opacity":1,"color":"#0A0AFF","angle":169,"xOffset":-1.7,"yOffset":-8},
 "encoding":{"x":{"field":"i","type":"quantitative","axis":null},"y":{"field":"p","type":"quantitative","axis":null}}},
{"data":{"name":"levels"},"transform":[{"filter":"indexof(['Red','Navy','Bid'], datum.level) < 0"}],
 "mark":{"type":"text","align":"center","baseline":"top","dy":2,"fontSize":19,"font":"Liberation Sans"},
 "encoding":{"x":{"datum":305.5,"axis":null},"y":{"field":"price","type":"quantitative","axis":null},"text":{"field":"level"},"color":{"field":"level","type":"nominal","legend":null}}},
{"data":{"name":"levels"},"transform":[{"filter":"datum.level == 'Bid'"}],
 "mark":{"type":"bar","size":19,"yOffset":-4,"color":"#000000"},
 "encoding":{"x":{"datum":416.5,"axis":null},"x2":{"datum":429.3},"y":{"field":"price","type":"quantitative","axis":null}}},
{"data":{"name":"levels"},"transform":[{"filter":"datum.level != 'Bid'"}],
 "mark":{"type":"bar","size":19,"yOffset":6.5},
 "encoding":{"x":{"datum":416.5,"axis":null},"x2":{"datum":429.3},"y":{"field":"price","type":"quantitative","axis":null},
  "fill":{"field":"level","type":"nominal","legend":null,"scale":{"domain":["H1[3/8]","H4[+1/8] H1[2/8]","Bid","Red","H1[1/8]","MN1RES W1RES D1RES H4RES H1SUP","Navy","H1[-1/8]","H4[7/8] H1[-2/8]"],"range":["#6B8E23","#FF4500","#000000","#FF0000","#FFA500","#1E90FF","#000080","#708090","#FF00FF"]}}}},
{"data":{"name":"levels"},"transform":[{"filter":"datum.level != 'Bid'"}],
 "mark":{"type":"text","align":"left","baseline":"middle","dy":7,"fontSize":14.5,"font":"DejaVu Sans","color":"#ffffff"},
 "encoding":{"x":{"datum":417.0,"axis":null},"y":{"field":"price","type":"quantitative","axis":null},"text":{"field":"price","type":"quantitative","format":".2f"}}},
{"data":{"values":[{}]},"mark":{"type":"text","align":"left","baseline":"middle","fontSize":13,"font":"DejaVu Sans","color":"#000","text":"▼"},
 "encoding":{"x":{"datum":0.8,"axis":null},"y":{"datum":5119.5,"axis":null}}},
{"data":{"values":[{}]},"mark":{"type":"text","align":"left","baseline":"middle","fontSize":15,"font":"DejaVu Sans","color":"#000","text":"US500Cash,H1  5060.75 5061.75 5054.74 5059.49"},
 "encoding":{"x":{"datum":4.0,"axis":null},"y":{"datum":5119.5,"axis":null}}},
{"data":{"values":[{}]},"mark":{"type":"point","shape":"triangle-down","filled":true,"size":90,"color":"#a0a0a0","opacity":1},
 "encoding":{"x":{"datum":333.4,"axis":null},"y":{"datum":5120.7,"axis":null}}}
]
},
{
"width":2472,"height":56,
"resolve":{"axis":{"x":"independent","y":"independent"}},
"layer":[
{"data":{"name":"rsi"},"mark":{"type":"line","opacity":0},
 "encoding":{"x":{"field":"i","type":"quantitative","scale":{"domain":[-0.52,416.35],"nice":false,"zero":false},
   "axis":{"orient":"bottom","values":[0,24,48,72,96,120,144,168,192,216,240,264,288,312],"labelExpr":"['8 Feb 2024','9 Feb 22:00','12 Feb 23:00','14 Feb 01:00','15 Feb 02:00','16 Feb 03:00','19 Feb 04:00','20 Feb 09:00','21 Feb 10:00','22 Feb 11:00','23 Feb 12:00','26 Feb 13:00','27 Feb 14:00','28 Feb 15:00'][round(datum.value/24)]","title":null,"grid":false,"domain":false,"ticks":true,"labels":true,"tickSize":4,"tickColor":"#000","labelColor":"#000","labelAlign":"left","labelFontSize":14,"labelFont":"DejaVu Sans","labelPadding":3,"labelOverlap":false}},
  "y":{"field":"r","type":"quantitative","scale":{"domain":[0,100],"nice":false,"zero":false},
   "axis":{"orient":"right","values":[100,70,30,0],"title":null,"grid":false,"domain":true,"ticks":true,"labels":true,"domainColor":"#000","tickSize":4,"tickColor":"#000","labelColor":"#000","labelFontSize":10.5,"labelFont":"DejaVu Sans","labelPadding":3,"labelFlush":true,"labelOverlap":false}}}},
{"data":{"name":"grid"},"transform":[{"filter":"datum.i < 345"}],"mark":{"type":"rule","color":"#444","strokeDash":[1,2],"strokeWidth":1},
 "encoding":{"x":{"field":"i","type":"quantitative","axis":null}}},
{"data":{"name":"rsiLevels"},"mark":{"type":"rule","color":"#bdbdbd","strokeDash":[2,2],"strokeWidth":1},
 "encoding":{"y":{"field":"r","type":"quantitative","axis":null}}},
{"data":{"name":"rsi"},"mark":{"type":"line","color":"#2A8FE8","strokeWidth":2},
 "encoding":{"x":{"field":"i","type":"quantitative","axis":null},"y":{"field":"r","type":"quantitative","axis":null}}},
{"data":{"values":[{}]},"mark":{"type":"text","align":"left","baseline":"middle","fontSize":15,"font":"DejaVu Sans","color":"#000","text":"RSI(14) 40.1203"},
 "encoding":{"x":{"datum":0.6,"axis":null},"y":{"datum":77,"axis":null}}}
]
}
]
}
